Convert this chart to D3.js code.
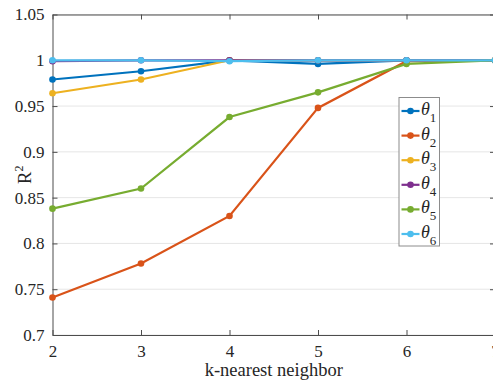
<!DOCTYPE html>
<html>
<head>
<meta charset="utf-8">
<script src="https://cdn.jsdelivr.net/npm/d3@7"></script>
<style>
  html, body { margin: 0; padding: 0; background: #fff; overflow: hidden; }
</style>
</head>
<body>
<svg id="chart" width="493" height="383"></svg>
<script>
// k values on the x axis
const kValues = [2, 3, 4, 5, 6, 7];

// R^2 per parameter
const theta1 = [0.979, 0.988, 1.000, 0.996, 1.000, 1.000];
const theta2 = [0.741, 0.778, 0.830, 0.948, 0.999, 1.000];
const theta3 = [0.964, 0.979, 1.000, 1.000, 1.000, 1.000];
const theta4 = [0.999, 1.000, 1.000, 1.000, 1.000, 1.000];
const theta5 = [0.838, 0.860, 0.938, 0.965, 0.996, 1.000];
const theta6 = [1.000, 1.000, 0.999, 1.000, 1.000, 1.000];

const seriesNames = ["1", "2", "3", "4", "5", "6"];
const seriesValues = [theta1, theta2, theta3, theta4, theta5, theta6];
const seriesColors = ["#0072BD", "#D95319", "#EDB120", "#7E2F8E", "#77AC30", "#4DBEEE"];

const yTicks = [0.7, 0.75, 0.8, 0.85, 0.9, 0.95, 1, 1.05];
const xLabel = "k-nearest neighbor";

const FONT = '"Liberation Serif"';
const svg = d3.select("#chart");
const plotLeft = 52.5, plotRight = 495, plotTop = 14.5, plotBottom = 335;

const x = d3.scaleLinear().domain([2, 7]).range([plotLeft, plotRight]);
const y = d3.scaleLinear().domain([0.7, 1.05]).range([plotBottom, plotTop]);

// horizontal grid
svg.append("g").selectAll("line").data(yTicks).join("line")
  .attr("x1", plotLeft).attr("x2", plotRight)
  .attr("y1", d => y(d)).attr("y2", d => y(d))
  .attr("stroke", "#e6e6e6").attr("stroke-width", 1);

const axisColor = "#4d4d4d";
const fmt = d => String(+d.toFixed(2));

// bottom axis
const gx = svg.append("g").attr("transform", `translate(0,${plotBottom})`)
  .call(d3.axisBottom(x).tickValues(kValues).tickSizeInner(-5).tickSizeOuter(0).tickPadding(10).tickFormat(d3.format("d")));
// top axis (ticks only)
const gxt = svg.append("g").attr("transform", `translate(0,${plotTop})`)
  .call(d3.axisTop(x).tickValues(kValues).tickSizeInner(-5).tickSizeOuter(0).tickFormat(""));
// left axis
const gy = svg.append("g").attr("transform", `translate(${plotLeft},0)`)
  .call(d3.axisLeft(y).tickValues(yTicks).tickSizeInner(-5).tickSizeOuter(0).tickPadding(8).tickFormat(fmt));
// right axis (ticks only)
const gyr = svg.append("g").attr("transform", `translate(${plotRight},0)`)
  .call(d3.axisRight(y).tickValues(yTicks).tickSizeInner(-5).tickSizeOuter(0).tickFormat(""));

[gx, gxt, gy, gyr].forEach(g => {
  g.select(".domain").attr("stroke", axisColor).attr("stroke-width", 1);
  g.selectAll(".tick line").attr("stroke", axisColor).attr("stroke-width", 1);
  g.selectAll("text").attr("fill", "#262626")
    .style("font-family", FONT).style("font-size", "17px");
});

// axis labels
svg.append("text").attr("x", (plotLeft + plotRight) / 2).attr("y", 376)
  .attr("text-anchor", "middle").attr("fill", "#262626")
  .style("font-family", FONT).style("font-size", "18.5px")
  .text(xLabel);

const yl = svg.append("text").attr("transform", `translate(31,${(plotTop + plotBottom) / 2}) rotate(-90)`)
  .attr("text-anchor", "middle").attr("fill", "#262626")
  .style("font-family", FONT).style("font-size", "18.5px");
yl.append("tspan").text("R");
yl.append("tspan").style("font-size", "12px").attr("dy", -8).text("2");

// series lines and markers
const line = d3.line().x((d, i) => x(kValues[i])).y(d => y(d));
seriesValues.forEach((vals, si) => {
  const g = svg.append("g");
  g.append("path").datum(vals).attr("d", line)
    .attr("fill", "none").attr("stroke", seriesColors[si]).attr("stroke-width", 2.2);
  g.selectAll("circle").data(vals).join("circle")
    .attr("cx", (d, i) => x(kValues[i])).attr("cy", d => y(d)).attr("r", 3.3)
    .attr("fill", seriesColors[si]);
});

// legend
const lg = svg.append("g");
lg.append("rect").attr("x", 399).attr("y", 97.5).attr("width", 40.5).attr("height", 148.5)
  .attr("fill", "#fff").attr("stroke", "#8c8c8c").attr("stroke-width", 1);
seriesNames.forEach((n, i) => {
  const cy = 111 + i * 24.6;
  lg.append("line").attr("x1", 401.5).attr("x2", 419.5).attr("y1", cy).attr("y2", cy)
    .attr("stroke", seriesColors[i]).attr("stroke-width", 2.2);
  lg.append("circle").attr("cx", 410.5).attr("cy", cy).attr("r", 3.3).attr("fill", seriesColors[i]);
  const t = lg.append("text").attr("x", 421).attr("y", cy + 4).attr("fill", "#262626")
    .style("font-family", FONT).style("font-size", "18px");
  t.append("tspan").style("font-style", "italic").text("θ");
  t.append("tspan").style("font-size", "13px").attr("dy", 7).text(n);
});
</script>
</body>
</html>
